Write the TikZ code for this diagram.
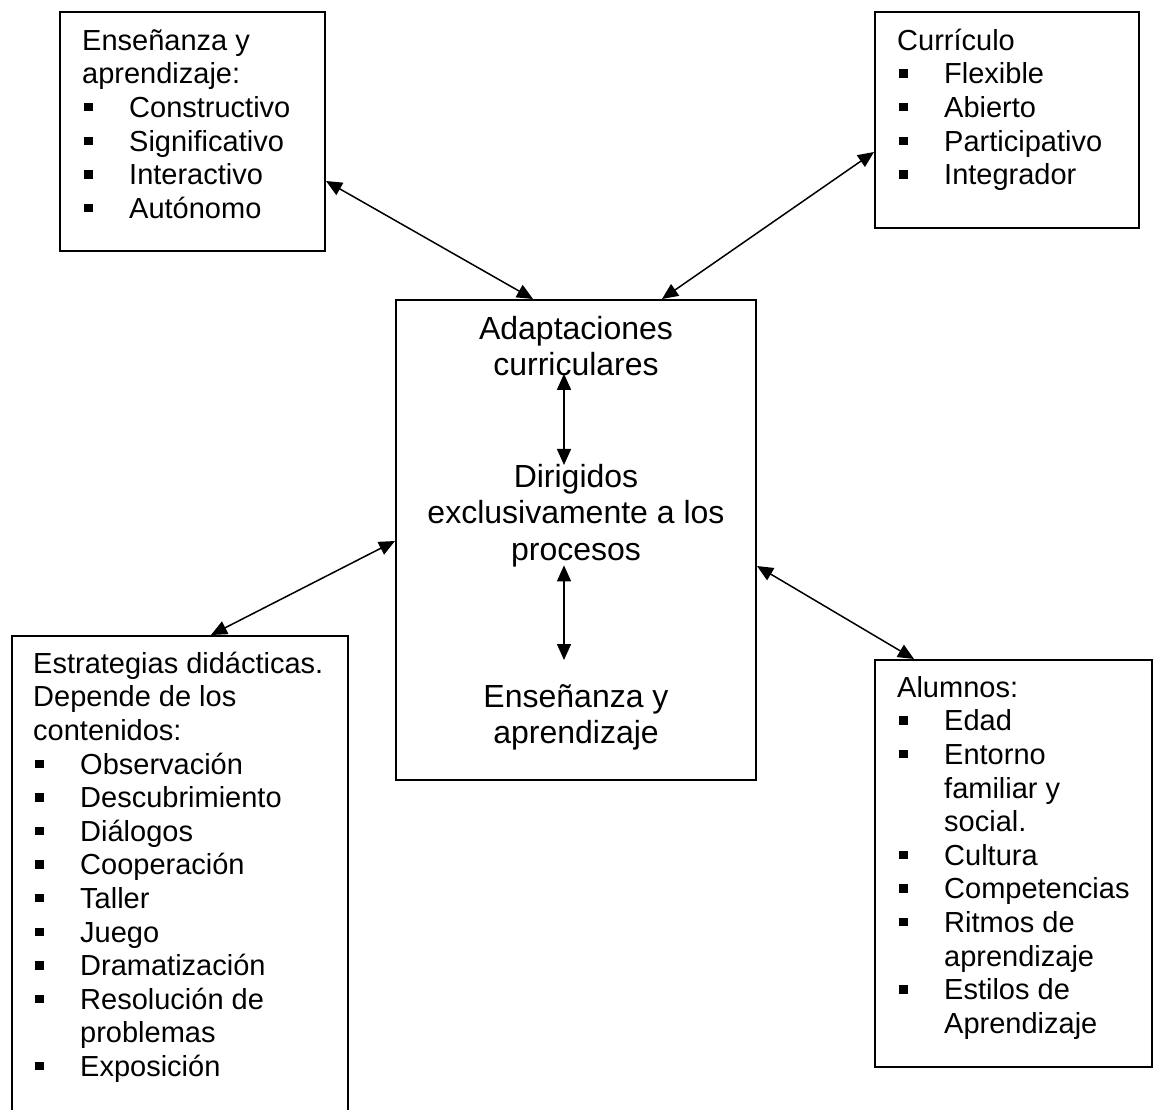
\documentclass[tikz,border=0pt]{standalone}
\usepackage{fontspec}
\setmainfont{Liberation Sans}
\usetikzlibrary{arrows.meta}
\newcommand{\itm}[1]{\makebox[47pt][l]{\hspace*{2pt}\rule[6pt]{8.5pt}{8.5pt}}#1}
\newcommand{\cont}[1]{\hspace*{47pt}#1}
\begin{document}
\begin{tikzpicture}[x=1pt,y=-1pt,
  box/.style={draw,line width=2pt,rectangle,inner sep=0pt},
  sidetext/.style={anchor=north west,inner sep=0pt,align=left,
    font=\fontsize{29}{33.6}\selectfont},
  midtext/.style={anchor=north,inner sep=0pt,align=center,
    font=\fontsize{32}{36.5}\selectfont},
  dbl/.style={line width=1.5pt,{Triangle[length=16pt,width=14pt]}-{Triangle[length=16pt,width=14pt]}}]
\useasboundingbox (0,0) rectangle (1153,1109);
\clip (0,0) rectangle (1153,1109);
% boxes
\node[box,minimum width=265pt,minimum height=239pt] (tl) at (192.5,131.5) {};
\node[box,minimum width=264pt,minimum height=216pt] (tr) at (1007,120) {};
\node[box,minimum width=360pt,minimum height=480pt] (cen) at (576,540) {};
\node[box,minimum width=336pt,minimum height=494pt] (bl) at (180,883) {};
\node[box,minimum width=277pt,minimum height=407pt] (br) at (1013.5,863.5) {};
% side texts
\node[sidetext] (tlt) at (82,26.48) {\strut Enseñanza y\\aprendizaje:\\\itm{Constructivo}\\\itm{Significativo}\\\itm{Interactivo}\\\itm{Autónomo}};
\node[sidetext] (trt) at (897,26.48) {\strut Currículo\\\itm{Flexible}\\\itm{Abierto}\\\itm{Participativo}\\\itm{Integrador}};
\node[sidetext] (blt) at (33,649.48) {\strut Estrategias didácticas.\\Depende de los\\contenidos:\\\itm{Observación}\\\itm{Descubrimiento}\\\itm{Diálogos}\\\itm{Cooperación}\\\itm{Taller}\\\itm{Juego}\\\itm{Dramatización}\\\itm{Resolución de}\\\cont{problemas}\\\itm{Exposición}};
\node[sidetext] (brt) at (897,673.48) {\strut Alumnos:\\\itm{Edad}\\\itm{Entorno}\\\cont{familiar y}\\\cont{social.}\\\itm{Cultura}\\\itm{Competencias}\\\itm{Ritmos de}\\\cont{aprendizaje}\\\itm{Estilos de}\\\cont{Aprendizaje}};
% center texts
\node[midtext] (c1) at (576,313.45) {\strut Adaptaciones\\curriculares\strut};
\node[midtext] (c2) at (576,461.45) {\strut Dirigidos\\exclusivamente a los\\procesos\strut};
\node[midtext] (c3) at (576,681.45) {\strut Enseñanza y\\aprendizaje\strut};
% inner arrows
\draw[dbl] ([xshift=-12pt,yshift=13pt]c1.south) -- ([xshift=-12pt,yshift=-3.5pt]c2.north);
\draw[dbl] ([xshift=-12pt,yshift=6pt]c2.south) -- ([xshift=-12pt,yshift=21.45pt]c3.north);
% outer arrows
\draw[dbl] ([yshift=-170pt]tl.north east) -- ([xshift=-43pt]cen.north);
\draw[dbl] ([xshift=86pt]cen.north) -- ([yshift=-141pt]tr.north west);
\draw[dbl] ([yshift=-242pt]cen.north west) -- ([xshift=200pt]bl.north west);
\draw[dbl] ([yshift=-267pt]cen.north east) -- ([xshift=40pt]br.north west);
\end{tikzpicture}
\end{document}
